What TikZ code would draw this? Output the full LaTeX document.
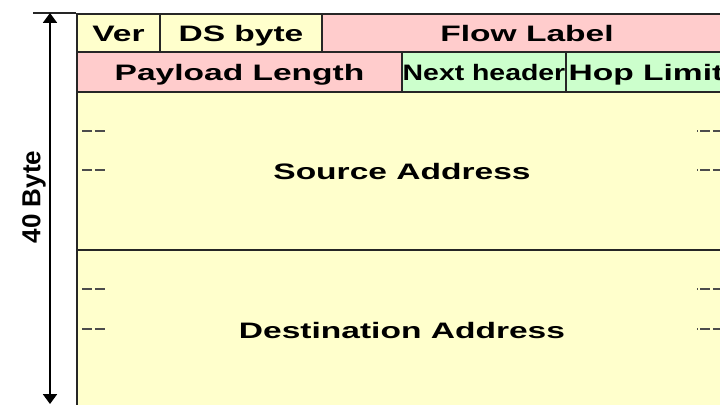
\documentclass[tikz,border=0pt]{standalone}
\usepackage{fontspec}
\usetikzlibrary{arrows.meta}

\newfontfamily\fieldfont[FakeStretch=1.5]{Liberation Sans Bold}
\newfontfamily\nextfont[FakeStretch=1.27]{Liberation Sans Bold}
\newfontfamily\sidefont{Liberation Sans Bold}

\definecolor{hdryellow}{HTML}{FFFFCC}
\definecolor{hdrpink}{HTML}{FFCCCC}
\definecolor{hdrgreen}{HTML}{CCFFCC}

\tikzset{
	field/.style 2 args={draw=black!85, line width=1.4pt, anchor=north west, inner sep=0pt,
		minimum width=#1*0.025cm, minimum height=#2*0.025cm,
		text height=11.4pt, text depth=0pt,
		font=\fieldfont\fontsize{15.9pt}{18pt}\selectfont},
	gapmark/.style={black!70, line width=0.8pt}
}

\begin{document}
\begin{tikzpicture}[x=0.025cm, y=-0.025cm]
	\path [use as bounding box, clip] (0,0) rectangle (720,404);
	\fill [white] (0,0) rectangle (720,404);

	% first two header rows
	\node [field={83}{38}, fill=hdryellow] (ver) at (76,13) {Ver};
	\node [field={162}{38}, fill=hdryellow] (ds) at (159,13) {DS byte};
	\node [field={410}{38}, fill=hdrpink] (flow) at (321,13) {Flow Label};
	\node [field={325}{40}, fill=hdrpink] (paylen) at (76,51) {Payload Length};
	\node [field={164}{40}, fill=hdrgreen, font=\nextfont\fontsize{15.9pt}{18pt}\selectfont] (next) at (401,51) {Next header};
	\node [field={160}{40}, fill=hdrgreen] (hop) at (565,51) {Hop Limit};

	% addresses
	\node [field={650}{158}, fill=hdryellow] (src) at (76,91) {Source Address};
	\node [field={650}{160}, fill=hdryellow] (dst) at (76,249) {Destination Address};

	% elided words
	\foreach \y in {131,170,289,329} {
		\draw [gapmark, dash pattern=on 7.1pt off 2.1pt on 7.1pt off 5pt] (82,\y) -- (105,\y);
		\draw [gapmark, dash pattern=on 0.8pt off 1.5pt on 7pt off 2pt on 7pt off 5pt] (697,\y) -- (725,\y);
	}

	% size of the header
	\coordinate (topleft) at (33,13);
	\coordinate (arrtop) at (50,13);
	\coordinate (arrbot) at (50,404);
	\draw [black!85, line width=0.8pt] (topleft) -- (ver.north west);
	\draw [line width=1pt, {Triangle[length=7pt,width=10pt]}-{Triangle[length=7pt,width=10pt]}] (arrtop) -- (arrbot);
	\node [rotate=90, inner sep=0pt, text height=13.3pt, text depth=0pt, font=\sidefont\fontsize{18.5pt}{20pt}\selectfont] (size) at (31,197) {40 Byte};
\end{tikzpicture}
\end{document}
